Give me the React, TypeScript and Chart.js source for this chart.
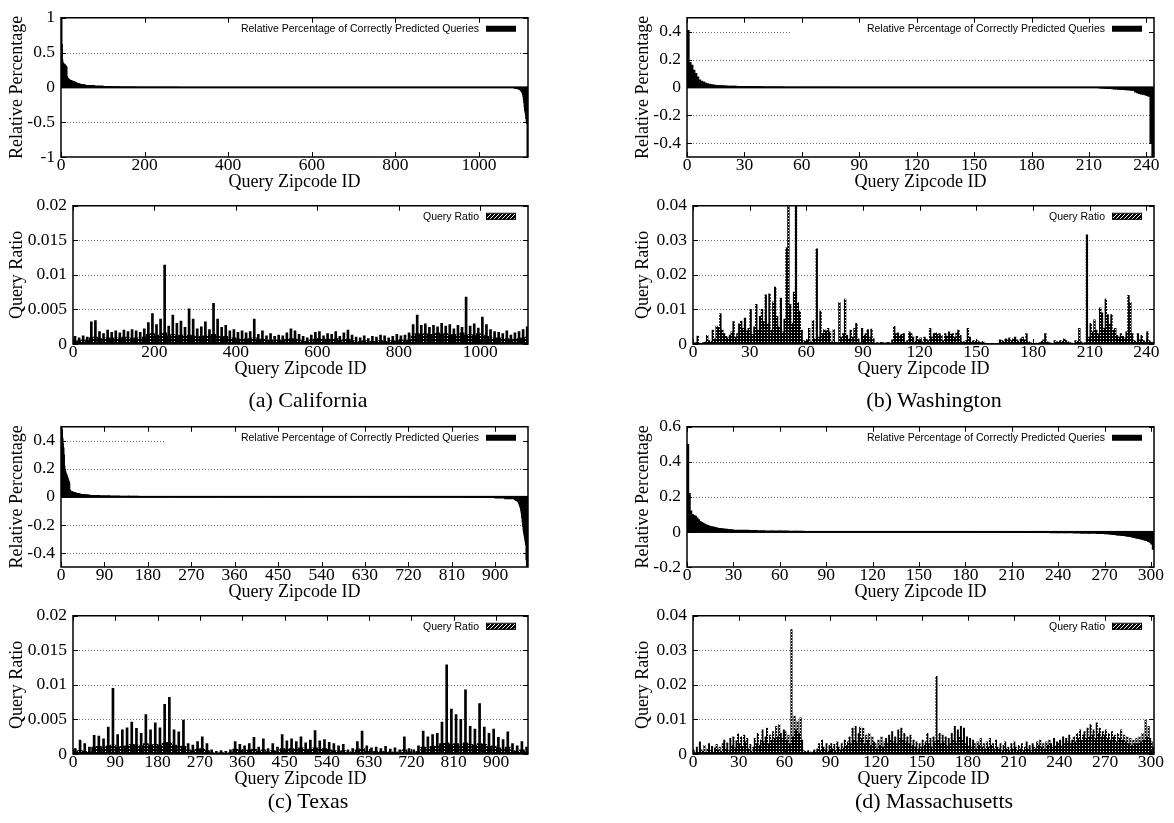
import React, { useEffect, useRef } from 'react';
import Chart from 'chart.js/auto';

// ---------------- DATA ----------------
// (a) California
const caCount = 1117;
const caXTicks = [0, 200, 400, 600, 800, 1000];
const caRelYTicks = [-1, -0.5, 0, 0.5, 1];
const caRelHead = [
  1.0, 1.0, 0.62, 0.4, 0.36, 0.35, 0.34, 0.33, 0.33, 0.32,
  0.32, 0.31, 0.3, 0.29, 0.16, 0.14, 0.13, 0.125, 0.12, 0.115,
  0.11, 0.105, 0.1, 0.098, 0.096, 0.094, 0.092, 0.09, 0.088, 0.086,
  0.084, 0.081, 0.078, 0.075, 0.072, 0.069, 0.066, 0.063, 0.06, 0.058,
  0.056, 0.054, 0.052, 0.05, 0.049, 0.048, 0.047, 0.045, 0.044, 0.042,
  0.041, 0.04, 0.038, 0.037, 0.036, 0.035, 0.034, 0.033, 0.032, 0.031,
];
const caRelMidStep = 20;
const caRelMid = [
  0.028, 0.021, 0.016, 0.012, 0.009, 0.007, 0.0055, 0.0045, 0.0038, 0.0032,
  0.0027, 0.0023, 0.002, 0.0017, 0.0014, 0.0012, 0.001, 0.0008, 0.0006, 0.0005,
  0.0004, 0.0003, 0.0002, 0, 0, 0, 0, 0, 0, 0,
  0, 0, 0, 0, 0, 0, 0, 0, 0, 0,
  -0.0002, -0.0004, -0.0006, -0.0008, -0.001, -0.0013, -0.0016, -0.002, -0.0025, -0.003,
  -0.004,
];
const caRelTail = [
  -0.005, -0.006, -0.006, -0.007, -0.008, -0.009, -0.01, -0.011, -0.012, -0.013,
  -0.015, -0.017, -0.019, -0.021, -0.024, -0.027, -0.03, -0.034, -0.038, -0.043,
  -0.05, -0.058, -0.068, -0.08, -0.1, -0.13, -0.17, -0.22, -0.28, -0.33,
  -0.36, -0.4, -0.45, -0.5, -0.52, -1.0, -1.0,
];
const caQrBin = 10;
const caQrPeak = [
  0.0011, 0.0009, 0.0012, 0.0010, 0.0032, 0.0034, 0.0018, 0.0015, 0.0020, 0.0017,
  0.0019, 0.0016, 0.0020, 0.0018, 0.0021, 0.0019, 0.0017, 0.0022, 0.0031, 0.0044,
  0.0028, 0.0036, 0.0114, 0.0026, 0.0042, 0.0030, 0.0033, 0.0024, 0.0051, 0.0036,
  0.0022, 0.0025, 0.0032, 0.0021, 0.0059, 0.0036, 0.0024, 0.0027, 0.0019, 0.0021,
  0.0017, 0.0019, 0.0016, 0.0018, 0.0036, 0.0014, 0.0019, 0.0012, 0.0015, 0.0011,
  0.0013, 0.0012, 0.0016, 0.0022, 0.0019, 0.0014, 0.0011, 0.0009, 0.0013, 0.0017,
  0.0018, 0.0012, 0.0015, 0.0014, 0.0018, 0.0011, 0.0016, 0.0020, 0.0013, 0.0010,
  0.0009, 0.0012, 0.0008, 0.0011, 0.0010, 0.0013, 0.0012, 0.0009, 0.0011, 0.0014,
  0.0012, 0.0013, 0.0016, 0.0028, 0.0042, 0.0027, 0.0029, 0.0024, 0.0027, 0.0025,
  0.0030, 0.0026, 0.0028, 0.0022, 0.0027, 0.0024, 0.0068, 0.0026, 0.0029, 0.0023,
  0.0039, 0.0028, 0.0021, 0.0018, 0.0017, 0.0015, 0.0019, 0.0013, 0.0016, 0.0018,
  0.0021, 0.0025,
];
const caQrBase = [
  0.0004, 0.0005, 0.0006, 0.0005,
  0.0009, 0.0010, 0.0008, 0.0007, 0.0009, 0.0008, 0.0009, 0.0008, 0.0010, 0.0009, 0.0008, 0.0009, 0.0008, 0.0010,
  0.0014, 0.0015, 0.0012, 0.0013, 0.0016, 0.0012, 0.0014, 0.0012, 0.0013, 0.0011, 0.0013, 0.0012, 0.0010, 0.0011, 0.0012, 0.0013, 0.0014, 0.0012, 0.0010, 0.0011,
  0.0008, 0.0009, 0.0007, 0.0008, 0.0007, 0.0008, 0.0009, 0.0006, 0.0007, 0.0005, 0.0006, 0.0005, 0.0006, 0.0005, 0.0007, 0.0008, 0.0007, 0.0006, 0.0004, 0.0004,
  0.0006, 0.0007, 0.0008, 0.0006, 0.0007, 0.0006, 0.0008, 0.0005, 0.0006, 0.0007, 0.0005, 0.0004, 0.0003, 0.0005, 0.0003, 0.0004, 0.0004, 0.0005, 0.0003, 0.0004, 0.0005, 0.0004, 0.0006, 0.0005, 0.0006,
  0.0013, 0.0015, 0.0014, 0.0015, 0.0013, 0.0014, 0.0016, 0.0014, 0.0015, 0.0013, 0.0014, 0.0012, 0.0016, 0.0013, 0.0014, 0.0012, 0.0015, 0.0013, 0.0011,
  0.0009, 0.0008, 0.0009, 0.0007, 0.0008, 0.0006, 0.0007, 0.0008, 0.0009, 0.0010,
];

// (b) Washington
const waCount = 244;
const waXTicks = [0, 30, 60, 90, 120, 150, 180, 210, 240];
const halfRelYTicks = [-0.4, -0.2, 0, 0.2, 0.4];
const waRelHead = [
  0.41, 0.18, 0.16, 0.125, 0.1, 0.075, 0.055, 0.045, 0.04, 0.032,
  0.028, 0.023, 0.02, 0.018, 0.016, 0.014, 0.013, 0.012, 0.012, 0.011,
  0.011, 0.01, 0.01, 0.009, 0.009, 0.009, 0.008, 0.008, 0.008, 0.007,
  0.007, 0.007, 0.006, 0.006, 0.006, 0.005, 0.005, 0.005, 0.005, 0.004,
];
const waRelMidStep = 5;
const waRelMid = [
  0.004, 0.0035, 0.003, 0.0025, 0.002, 0.0018, 0.0015, 0.0013, 0.0011, 0.001,
  0.0008, 0.0007, 0.0006, 0.0005, 0.0004, 0.0003, 0.0002, 0.0001, 0, 0,
  0, 0, 0, 0, 0, 0, 0, 0, -0.0002, -0.0004,
  -0.0006, -0.0008, -0.001, -0.0015, -0.002,
];
const waRelTail = [
  -0.004, -0.005, -0.006, -0.007, -0.008, -0.009, -0.01, -0.011, -0.012, -0.013,
  -0.014, -0.015, -0.016, -0.017, -0.018, -0.019, -0.02, -0.021, -0.022, -0.035,
  -0.04, -0.045, -0.048, -0.05, -0.055, -0.06, -0.065, -0.4, -0.5,
];
const waQr = [
  0.0003, 0.0004, 0.0023, 0.0003, 0.0002, 0.0004, 0.0006, 0.0025, 0.0010, 0.0008,
  0.0040, 0.0015, 0.0052, 0.0048, 0.0088, 0.0042, 0.0030, 0.0022, 0.0018, 0.0026,
  0.0035, 0.0065, 0.0020, 0.0030, 0.0058, 0.0066, 0.0045, 0.0075, 0.0038, 0.0045,
  0.0100, 0.0028, 0.0050, 0.0115, 0.0040, 0.0080, 0.0100, 0.0065, 0.0142, 0.0060,
  0.0145, 0.0040, 0.0122, 0.0165, 0.0080, 0.0050, 0.0133, 0.0035, 0.0072, 0.0278,
  0.0450, 0.0115, 0.0060, 0.0150, 0.0450, 0.0120, 0.0095, 0.0040, 0.0010, 0.0008,
  0.0012, 0.0045, 0.0006, 0.0068, 0.0015, 0.0275, 0.0020, 0.0095, 0.0030, 0.0042,
  0.0038, 0.0045, 0.0035, 0.0006, 0.0042, 0.0005, 0.0004, 0.0120, 0.0020, 0.0030,
  0.0130, 0.0025, 0.0015, 0.0040, 0.0020, 0.0045, 0.0060, 0.0015, 0.0004, 0.0045,
  0.0025, 0.0030, 0.0042, 0.0020, 0.0043, 0.0015, 0.0003, 0.0004, 0.0003, 0.0005,
  0.0004, 0.0003, 0.0004, 0.0005, 0.0003, 0.0012, 0.0051, 0.0030, 0.0032, 0.0025,
  0.0028, 0.0030, 0.0006, 0.0010, 0.0035, 0.0030, 0.0020, 0.0008, 0.0022, 0.0012,
  0.0018, 0.0006, 0.0020, 0.0015, 0.0010, 0.0045, 0.0020, 0.0030, 0.0032, 0.0028,
  0.0030, 0.0025, 0.0010, 0.0030, 0.0022, 0.0035, 0.0028, 0.0030, 0.0020, 0.0032,
  0.0040, 0.0025, 0.0008, 0.0006, 0.0010, 0.0045, 0.0020, 0.0008, 0.0010, 0.0008,
  0.0010, 0.0006, 0.0004, 0.0008, 0.0003, 0.0002, 0.0001, 0.0001, 0.0002, 0.0001,
  0.0002, 0.0001, 0.0012, 0.0010, 0.0008, 0.0015, 0.0012, 0.0018, 0.0010, 0.0015,
  0.0020, 0.0012, 0.0008, 0.0015, 0.0020, 0.0012, 0.0030, 0.0008, 0.0004, 0.0003,
  0.0002, 0.0003, 0.0002, 0.0004, 0.0008, 0.0012, 0.0030, 0.0006, 0.0004, 0.0003,
  0.0002, 0.0010, 0.0006, 0.0008, 0.0010, 0.0008, 0.0015, 0.0010, 0.0006, 0.0004,
  0.0003, 0.0002, 0.0010, 0.0008, 0.0045, 0.0006, 0.0003, 0.0004, 0.0316, 0.0020,
  0.0060, 0.0035, 0.0070, 0.0040, 0.0030, 0.0105, 0.0090, 0.0045, 0.0130, 0.0085,
  0.0060, 0.0085, 0.0040, 0.0045, 0.0025, 0.0020, 0.0030, 0.0022, 0.0018, 0.0035,
  0.0141, 0.0120, 0.0030, 0.0010, 0.0008, 0.0030, 0.0012, 0.0025, 0.0010, 0.0008,
  0.0035, 0.0010, 0.0006, 0.0004,
];

// (c) Texas
const txCount = 968;
const txXTicks = [0, 90, 180, 270, 360, 450, 540, 630, 720, 810, 900];
const txRelHead = [
  0.55, 0.5, 0.48, 0.42, 0.38, 0.35, 0.3, 0.22, 0.19, 0.18,
  0.17, 0.16, 0.15, 0.14, 0.13, 0.12, 0.11, 0.1, 0.05, 0.045,
  0.042, 0.04, 0.038, 0.036, 0.035, 0.034, 0.032, 0.031, 0.03, 0.029,
  0.028, 0.027, 0.026, 0.025, 0.024, 0.023, 0.022, 0.022, 0.021, 0.02,
  0.02, 0.019, 0.019, 0.018, 0.018, 0.017, 0.017, 0.016, 0.016, 0.015,
  0.015, 0.015, 0.014, 0.014, 0.014, 0.013, 0.013, 0.013, 0.012, 0.012,
];
const txRelMidStep = 20;
const txRelMid = [
  0.011, 0.009, 0.0075, 0.0065, 0.0055, 0.0045, 0.0035, 0.003, 0.0025, 0.002,
  0.0017, 0.0014, 0.0012, 0.001, 0.0008, 0.0006, 0.0005, 0.0004, 0.0003, 0.0002,
  0.0001, 0, 0, 0, 0, 0, 0, 0, 0, 0,
  0, 0, 0, -0.0002, -0.0004, -0.0006, -0.001, -0.0015, -0.002, -0.003,
  -0.004, -0.006, -0.009, -0.014,
];
const txRelTail = [
  -0.02, -0.021, -0.023, -0.025, -0.027, -0.029, -0.032, -0.035, -0.04, -0.05,
  -0.06, -0.07, -0.08, -0.1, -0.12, -0.15, -0.18, -0.21, -0.24, -0.26,
  -0.28, -0.3, -0.32, -0.34, -0.45, -0.5, -0.5, -0.5,
];
const txQrBin = 10;
const txQrPeak = [
  0.0008, 0.0020, 0.0015, 0.0010, 0.0027, 0.0026, 0.0022, 0.0039, 0.0095, 0.0028,
  0.0035, 0.0038, 0.0046, 0.0037, 0.0030, 0.0057, 0.0035, 0.0045, 0.0038, 0.0072,
  0.0082, 0.0035, 0.0032, 0.0049, 0.0015, 0.0013, 0.0018, 0.0025, 0.0015, 0.0006,
  0.0004, 0.0005, 0.0004, 0.0006, 0.0018, 0.0014, 0.0012, 0.0015, 0.0024, 0.0010,
  0.0022, 0.0008, 0.0015, 0.0010, 0.0028, 0.0019, 0.0022, 0.0018, 0.0025, 0.0016,
  0.0020, 0.0034, 0.0019, 0.0021, 0.0017, 0.0015, 0.0012, 0.0014, 0.0006, 0.0008,
  0.0018, 0.0033, 0.0012, 0.0009, 0.0010, 0.0008, 0.0011, 0.0007, 0.0009, 0.0006,
  0.0025, 0.0008, 0.0006, 0.0012, 0.0033, 0.0025, 0.0028, 0.0030, 0.0046, 0.0129,
  0.0065, 0.0057, 0.0050, 0.0093, 0.0040, 0.0036, 0.0073, 0.0039, 0.0030, 0.0036,
  0.0024, 0.0021, 0.0032, 0.0015, 0.0012, 0.0018, 0.0010,
];
const txQrBase = [
  0.0003, 0.0005, 0.0004, 0.0004,
  0.0010, 0.0011, 0.0009, 0.0012, 0.0013, 0.0010, 0.0011, 0.0012, 0.0014, 0.0013, 0.0012, 0.0015, 0.0013, 0.0014, 0.0013, 0.0016, 0.0017, 0.0013, 0.0012, 0.0011,
  0.0006, 0.0005, 0.0007, 0.0008, 0.0005,
  0.0002, 0.0001, 0.0002, 0.0001, 0.0002,
  0.0007, 0.0006, 0.0005, 0.0006, 0.0007, 0.0004, 0.0006, 0.0003, 0.0005, 0.0004, 0.0008, 0.0007, 0.0008, 0.0007, 0.0009, 0.0006, 0.0007, 0.0009, 0.0007, 0.0008, 0.0006, 0.0005, 0.0004, 0.0005,
  0.0002, 0.0003, 0.0006, 0.0008, 0.0004, 0.0003, 0.0004, 0.0003, 0.0004, 0.0002, 0.0003, 0.0002, 0.0006, 0.0003, 0.0002, 0.0004,
  0.0010, 0.0009, 0.0011, 0.0012, 0.0015, 0.0016, 0.0014, 0.0015, 0.0013, 0.0016, 0.0014, 0.0013, 0.0015, 0.0014, 0.0011, 0.0012, 0.0009, 0.0008, 0.0010,
  0.0005, 0.0004, 0.0006, 0.0004,
];

// (d) Massachusetts
const maCount = 302;
const maXTicks = [0, 30, 60, 90, 120, 150, 180, 210, 240, 270, 300];
const maRelYTicks = [-0.2, 0, 0.2, 0.4, 0.6];
const maRelHead = [
  0.5, 0.22, 0.12, 0.1, 0.095, 0.09, 0.08, 0.07, 0.06, 0.055,
  0.05, 0.045, 0.04, 0.037, 0.034, 0.031, 0.029, 0.027, 0.025, 0.023,
  0.021, 0.02, 0.019, 0.018, 0.017, 0.016, 0.015, 0.014, 0.013, 0.012,
];
const maRelMidStep = 5;
const maRelMid = [
  0.011, 0.01, 0.009, 0.008, 0.007, 0.0065, 0.006, 0.005, 0.0045, 0.004,
  0.0035, 0.003, 0.0025, 0.002, 0.0018, 0.0015, 0.0012, 0.001, 0.0008, 0.0006,
  0.0004, 0.0002, 0, 0, 0, 0, 0, 0, 0, -0.0003,
  -0.0006, -0.001, -0.0013, -0.0016, -0.002, -0.0024, -0.0028, -0.0032, -0.0036, -0.004,
  -0.0045, -0.005, -0.0055, -0.006, -0.007, -0.008, -0.009, -0.01,
];
const maRelTail = [
  -0.011, -0.012, -0.012, -0.013, -0.014, -0.015, -0.016, -0.017, -0.018, -0.019,
  -0.02, -0.021, -0.022, -0.023, -0.024, -0.025, -0.027, -0.029, -0.031, -0.033,
  -0.035, -0.037, -0.039, -0.041, -0.043, -0.045, -0.048, -0.05, -0.055, -0.06,
  -0.07, -0.1,
];
const maQr = [
  0.0010, 0.0004, 0.0020, 0.0006, 0.0035, 0.0012, 0.0008, 0.0025, 0.0005, 0.0015,
  0.0030, 0.0010, 0.0022, 0.0006, 0.0018, 0.0028, 0.0012, 0.0020, 0.0008, 0.0030,
  0.0040, 0.0015, 0.0032, 0.0010, 0.0045, 0.0025, 0.0050, 0.0018, 0.0038, 0.0058,
  0.0030, 0.0050, 0.0022, 0.0055, 0.0035, 0.0045, 0.0015, 0.0028, 0.0008, 0.0020,
  0.0045, 0.0030, 0.0060, 0.0025, 0.0040, 0.0070, 0.0035, 0.0050, 0.0075, 0.0030,
  0.0055, 0.0040, 0.0065, 0.0045, 0.0080, 0.0050, 0.0085, 0.0060, 0.0045, 0.0070,
  0.0065, 0.0040, 0.0055, 0.0030, 0.0360, 0.0050, 0.0110, 0.0070, 0.0095, 0.0060,
  0.0105, 0.0040, 0.0010, 0.0008, 0.0005, 0.0010, 0.0006, 0.0004, 0.0008, 0.0012,
  0.0006, 0.0015, 0.0030, 0.0010, 0.0040, 0.0020, 0.0012, 0.0030, 0.0008, 0.0025,
  0.0030, 0.0015, 0.0028, 0.0010, 0.0035, 0.0020, 0.0012, 0.0030, 0.0018, 0.0040,
  0.0025, 0.0035, 0.0050, 0.0030, 0.0075, 0.0040, 0.0080, 0.0035, 0.0060, 0.0078,
  0.0045, 0.0075, 0.0030, 0.0055, 0.0040, 0.0060, 0.0025, 0.0050, 0.0035, 0.0030,
  0.0015, 0.0040, 0.0025, 0.0050, 0.0020, 0.0035, 0.0045, 0.0030, 0.0055, 0.0040,
  0.0065, 0.0035, 0.0050, 0.0030, 0.0070, 0.0045, 0.0075, 0.0040, 0.0060, 0.0035,
  0.0050, 0.0030, 0.0055, 0.0025, 0.0040, 0.0020, 0.0035, 0.0015, 0.0030, 0.0020,
  0.0040, 0.0025, 0.0035, 0.0060, 0.0030, 0.0045, 0.0020, 0.0050, 0.0035, 0.0225,
  0.0040, 0.0060, 0.0030, 0.0055, 0.0035, 0.0050, 0.0025, 0.0045, 0.0030, 0.0060,
  0.0040, 0.0080, 0.0035, 0.0070, 0.0050, 0.0080, 0.0040, 0.0075, 0.0030, 0.0050,
  0.0025, 0.0045, 0.0020, 0.0040, 0.0030, 0.0015, 0.0035, 0.0025, 0.0045, 0.0020,
  0.0030, 0.0015, 0.0035, 0.0020, 0.0045, 0.0025, 0.0030, 0.0015, 0.0040, 0.0020,
  0.0015, 0.0030, 0.0010, 0.0025, 0.0035, 0.0015, 0.0020, 0.0010, 0.0030, 0.0015,
  0.0035, 0.0020, 0.0010, 0.0025, 0.0015, 0.0030, 0.0010, 0.0020, 0.0035, 0.0015,
  0.0025, 0.0010, 0.0030, 0.0020, 0.0015, 0.0035, 0.0025, 0.0040, 0.0020, 0.0030,
  0.0015, 0.0035, 0.0025, 0.0040, 0.0030, 0.0020, 0.0045, 0.0025, 0.0035, 0.0030,
  0.0040, 0.0025, 0.0050, 0.0030, 0.0045, 0.0035, 0.0055, 0.0030, 0.0040, 0.0050,
  0.0035, 0.0060, 0.0045, 0.0070, 0.0040, 0.0055, 0.0065, 0.0045, 0.0075, 0.0050,
  0.0085, 0.0055, 0.0070, 0.0045, 0.0090, 0.0060, 0.0075, 0.0050, 0.0065, 0.0055,
  0.0070, 0.0045, 0.0060, 0.0040, 0.0065, 0.0050, 0.0055, 0.0035, 0.0060, 0.0045,
  0.0070, 0.0040, 0.0055, 0.0035, 0.0050, 0.0030, 0.0045, 0.0025, 0.0040, 0.0030,
  0.0045, 0.0030, 0.0050, 0.0035, 0.0060, 0.0040, 0.0098, 0.0050, 0.0080, 0.0045,
  0.0035, 0.0020,
];

const smallRatioYTicks = [0, 0.005, 0.01, 0.015, 0.02];
const largeRatioYTicks = [0, 0.01, 0.02, 0.03, 0.04];

const relLegend = 'Relative Percentage of Correctly Predicted Queries';
const qrLegend = 'Query Ratio';
const xTitle = 'Query Zipcode ID';

const captions = [
  { text: '(a) California', cx: 308, cy: 400 },
  { text: '(b) Washington', cx: 934, cy: 400 },
  { text: '(c) Texas', cx: 308, cy: 801 },
  { text: '(d) Massachusetts', cx: 934, cy: 801 },
];

// ---------------- RENDERING ----------------
const SERIF = '"Liberation Serif", "Times New Roman", Times, serif';
const SANS = '"Liberation Sans", Arial, Helvetica, sans-serif';
const PAD_T = 12;
const PAD_R = 20;
const X_H = 36;

function makePattern(): any {
  const c = document.createElement('canvas');
  c.width = 3;
  c.height = 3;
  const g = c.getContext('2d');
  if (!g) return '#000';
  g.fillStyle = '#000';
  g.fillRect(0, 0, 3, 3);
  g.fillStyle = '#fff';
  g.fillRect(0, 0, 1, 1);
  return g.createPattern(c, 'repeat') || '#000';
}

function makeKeyPattern(): any {
  const c = document.createElement('canvas');
  c.width = 4;
  c.height = 4;
  const g = c.getContext('2d');
  if (!g) return '#000';
  g.fillStyle = '#000';
  g.fillRect(0, 0, 4, 4);
  g.fillStyle = '#fff';
  g.fillRect(3, 0, 1, 1);
  g.fillRect(2, 1, 1, 1);
  g.fillRect(1, 2, 1, 1);
  g.fillRect(0, 3, 1, 1);
  return g.createPattern(c, 'repeat') || '#000';
}

function relSets(head: number[], mid: number[], step: number, tail: number[], count: number, ppu: number) {
  const single = head
    .map((v, i) => ({ x: i + 0.5, y: v }))
    .concat(tail.map((v, i) => ({ x: count - tail.length + i + 0.5, y: v })));
  const midPts = mid.map((v, k) => ({ x: head.length + step * (k + 0.5), y: v }));
  return [
    { data: single, backgroundColor: '#000', barThickness: Math.max(ppu * 1.4, 1), grouped: false, borderWidth: 0 },
    { data: midPts, backgroundColor: '#000', barThickness: step * ppu + 0.6, grouped: false, borderWidth: 0 },
  ];
}

function binSets(peak: number[], base: number[], bin: number, ppu: number, pattern: any) {
  return [
    { data: peak.map((v, k) => ({ x: bin * (k + 0.5), y: v })), backgroundColor: '#000', barThickness: 2, grouped: false, borderWidth: 0 },
    { data: base.map((v, k) => ({ x: bin * (k + 0.5), y: v })), backgroundColor: pattern, barThickness: bin * ppu + 0.4, grouped: false, borderWidth: 0 },
  ];
}

function idSets(vals: number[], ppu: number, pattern: any) {
  return [
    { data: vals.map((v, i) => ({ x: i + 0.5, y: v })), backgroundColor: pattern, barThickness: ppu * 0.9, grouped: false, borderWidth: 0 },
  ];
}

type Spec = {
  id: string;
  L: number; T: number; R: number; B: number;
  canvasLeft: number;
  xMax: number; xTicks: number[];
  yMin: number; yMax: number; yTicks: number[];
  yTitle: string;
  rel: boolean;
  build: (ppu: number, pattern: any) => any[];
};

const specs: Spec[] = [
  {
    id: 'caRel', L: 61, T: 15, R: 528, B: 157, canvasLeft: 6,
    xMax: caCount, xTicks: caXTicks, yMin: -1, yMax: 1, yTicks: caRelYTicks,
    yTitle: 'Relative Percentage', rel: true,
    build: (ppu) => relSets(caRelHead, caRelMid, caRelMidStep, caRelTail, caCount, ppu),
  },
  {
    id: 'caQr', L: 73, T: 203, R: 528, B: 344, canvasLeft: 6,
    xMax: caCount, xTicks: caXTicks, yMin: 0, yMax: 0.02, yTicks: smallRatioYTicks,
    yTitle: 'Query Ratio', rel: false,
    build: (ppu, p) => binSets(caQrPeak, caQrBase, caQrBin, ppu, p),
  },
  {
    id: 'waRel', L: 687, T: 15, R: 1154, B: 157, canvasLeft: 632,
    xMax: waCount, xTicks: waXTicks, yMin: -0.5, yMax: 0.5, yTicks: halfRelYTicks,
    yTitle: 'Relative Percentage', rel: true,
    build: (ppu) => relSets(waRelHead, waRelMid, waRelMidStep, waRelTail, waCount, ppu),
  },
  {
    id: 'waQr', L: 693, T: 203, R: 1154, B: 344, canvasLeft: 632,
    xMax: waCount, xTicks: waXTicks, yMin: 0, yMax: 0.04, yTicks: largeRatioYTicks,
    yTitle: 'Query Ratio', rel: false,
    build: (ppu, p) => idSets(waQr, ppu, p),
  },
  {
    id: 'txRel', L: 61, T: 424, R: 528, B: 567, canvasLeft: 6,
    xMax: txCount, xTicks: txXTicks, yMin: -0.5, yMax: 0.5, yTicks: halfRelYTicks,
    yTitle: 'Relative Percentage', rel: true,
    build: (ppu) => relSets(txRelHead, txRelMid, txRelMidStep, txRelTail, txCount, ppu),
  },
  {
    id: 'txQr', L: 73, T: 613, R: 528, B: 754, canvasLeft: 6,
    xMax: txCount, xTicks: txXTicks, yMin: 0, yMax: 0.02, yTicks: smallRatioYTicks,
    yTitle: 'Query Ratio', rel: false,
    build: (ppu, p) => binSets(txQrPeak, txQrBase, txQrBin, ppu, p),
  },
  {
    id: 'maRel', L: 687, T: 424, R: 1154, B: 567, canvasLeft: 632,
    xMax: maCount, xTicks: maXTicks, yMin: -0.2, yMax: 0.6, yTicks: maRelYTicks,
    yTitle: 'Relative Percentage', rel: true,
    build: (ppu) => relSets(maRelHead, maRelMid, maRelMidStep, maRelTail, maCount, ppu),
  },
  {
    id: 'maQr', L: 693, T: 613, R: 1154, B: 754, canvasLeft: 632,
    xMax: maCount, xTicks: maXTicks, yMin: 0, yMax: 0.04, yTicks: largeRatioYTicks,
    yTitle: 'Query Ratio', rel: false,
    build: (ppu, p) => idSets(maQr, ppu, p),
  },
];

function gnuPlugin(spec: Spec, keyPattern: any) {
  return {
    id: 'gnu_' + spec.id,
    beforeDatasetsDraw(chart: any) {
      const { ctx, chartArea: a } = chart;
      const y = chart.scales.y;
      ctx.save();
      ctx.strokeStyle = '#707070';
      ctx.lineWidth = 1;
      ctx.setLineDash([1, 2]);
      for (const v of spec.yTicks) {
        if (v <= spec.yMin || v >= spec.yMax || (spec.rel && v === 0)) continue;
        const py = Math.round(y.getPixelForValue(v)) + 0.5;
        ctx.beginPath();
        ctx.moveTo(a.left, py);
        ctx.lineTo(a.right, py);
        ctx.stroke();
      }
      ctx.restore();
    },
    afterDatasetsDraw(chart: any) {
      const { ctx, chartArea: a } = chart;
      const x = chart.scales.x;
      const y = chart.scales.y;
      ctx.save();
      ctx.setLineDash([]);
      if (spec.rel) {
        const y0 = y.getPixelForValue(0);
        ctx.fillStyle = '#000';
        ctx.fillRect(a.left, y0 - 1, a.right - a.left, 2);
        ctx.fillStyle = '#fff';
        ctx.fillRect(a.right - 363, a.top + 1, 362, 21);
      }
      // key
      ctx.fillStyle = '#000';
      ctx.font = `10.5px ${SANS}`;
      ctx.textAlign = 'right';
      ctx.textBaseline = 'middle';
      ctx.fillText(spec.rel ? relLegend : qrLegend, a.right - 49, a.top + 11);
      if (spec.rel) {
        ctx.fillRect(a.right - 42, a.top + 8, 30, 6);
      } else {
        ctx.fillStyle = keyPattern;
        ctx.fillRect(a.right - 42, a.top + 8, 30, 6);
        ctx.strokeStyle = '#000';
        ctx.lineWidth = 1;
        ctx.strokeRect(a.right - 41.5, a.top + 7.5, 29, 6);
      }
      // inward ticks
      ctx.strokeStyle = '#000';
      ctx.lineWidth = 1;
      ctx.beginPath();
      for (const v of spec.xTicks) {
        const px = Math.round(x.getPixelForValue(v)) + 0.5;
        ctx.moveTo(px, a.bottom);
        ctx.lineTo(px, a.bottom - 5);
        ctx.moveTo(px, a.top);
        ctx.lineTo(px, a.top + 5);
      }
      for (const v of spec.yTicks) {
        const py = Math.round(y.getPixelForValue(v)) + 0.5;
        ctx.moveTo(a.left, py);
        ctx.lineTo(a.left + 5, py);
        ctx.moveTo(a.right, py);
        ctx.lineTo(a.right - 5, py);
      }
      ctx.stroke();
      // border
      ctx.lineWidth = 1.5;
      ctx.strokeRect(a.left, a.top, a.right - a.left, a.bottom - a.top);
      ctx.restore();
    },
  };
}

function Panel({ spec }: { spec: Spec }) {
  const ref = useRef<HTMLCanvasElement | null>(null);
  const width = spec.R - spec.canvasLeft + PAD_R;
  const height = PAD_T + (spec.B - spec.T) + X_H;

  useEffect(() => {
    const canvas = ref.current;
    if (!canvas) return;
    const ppu = (spec.R - spec.L) / spec.xMax;
    const pattern = makePattern();
    const keyPattern = makeKeyPattern();
    const tickFont = { family: SERIF, size: 17.5, lineHeight: 1 };
    const titleFont = { family: SERIF, size: 18 };
    const chart = new Chart(canvas, {
      type: 'bar',
      data: { datasets: spec.build(ppu, pattern) as any },
      options: {
        animation: false,
        responsive: false,
        maintainAspectRatio: false,
        devicePixelRatio: 1,
        events: [],
        layout: { padding: { left: 0, top: PAD_T, right: PAD_R, bottom: 0 } },
        plugins: { legend: { display: false }, tooltip: { enabled: false } },
        scales: {
          x: {
            type: 'linear',
            min: 0,
            max: spec.xMax,
            offset: false,
            grid: { display: false, drawTicks: false, offset: false },
            border: { display: false },
            ticks: {
              autoSkip: false,
              maxRotation: 0,
              padding: 0,
              color: '#000',
              font: tickFont,
              callback: (v: any) => String(v),
            },
            afterBuildTicks: (s: any) => {
              s.ticks = spec.xTicks.map((v) => ({ value: v }));
            },
            afterFit: (s: any) => {
              s.height = X_H;
            },
            title: { display: true, text: xTitle, color: '#000', font: titleFont, padding: 0 },
          },
          y: {
            type: 'linear',
            min: spec.yMin,
            max: spec.yMax,
            grid: { display: false, drawTicks: false },
            border: { display: false },
            ticks: {
              padding: 6,
              color: '#000',
              font: tickFont,
              callback: (v: any) => String(v),
            },
            afterBuildTicks: (s: any) => {
              s.ticks = spec.yTicks.map((v) => ({ value: v }));
            },
            afterFit: (s: any) => {
              s.width = spec.L - spec.canvasLeft;
            },
            title: { display: true, text: spec.yTitle, color: '#000', font: titleFont, padding: 0 },
          },
        },
      } as any,
      plugins: [gnuPlugin(spec, keyPattern)],
    });
    return () => chart.destroy();
  }, []);

  return (
    <canvas
      ref={ref}
      width={width}
      height={height}
      style={{ position: 'absolute', left: spec.canvasLeft, top: spec.T - PAD_T, width, height }}
    />
  );
}

export default function App() {
  return (
    <div style={{ position: 'absolute', left: 0, top: 0, width: 1174, height: 823, background: '#fff', overflow: 'hidden' }}>
      {specs.map((s) => (
        <Panel key={s.id} spec={s} />
      ))}
      {captions.map((c) => (
        <div
          key={c.text}
          style={{
            position: 'absolute',
            left: c.cx - 150,
            top: c.cy - 13,
            width: 300,
            height: 26,
            lineHeight: '26px',
            textAlign: 'center',
            fontFamily: SERIF,
            fontSize: 22,
            color: '#000',
          }}
        >
          {c.text}
        </div>
      ))}
    </div>
  );
}
